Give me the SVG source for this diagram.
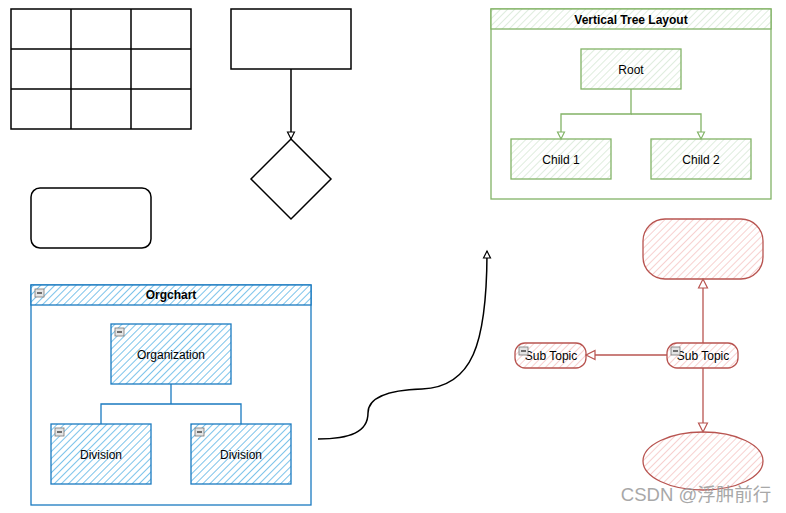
<svg xmlns="http://www.w3.org/2000/svg" width="786" height="513" viewBox="0 0 786 513">
<style>
.blk{fill:none;stroke:#000;stroke-width:1.5}
.t{font-family:"Liberation Sans",Arial,sans-serif;font-size:12px;fill:#000;text-anchor:middle}
.b{font-weight:bold}
.blue{fill:url(#hb);stroke:#1a7ac0;stroke-width:1.3}
.bluew{fill:#fff;stroke:#1a7ac0;stroke-width:1.3}
.green{fill:url(#hg);stroke:#82b366;stroke-width:1.3}
.greenw{fill:#fff;stroke:#82b366;stroke-width:1.3}
.red{fill:url(#hr);stroke:#b85450;stroke-width:1.3}
.ic{fill:#e4e4e4;stroke:#777;stroke-width:0.8}
.icl{stroke:#222;stroke-width:1.2}
</style>
<defs>
<pattern id="hb" width="5" height="5" patternUnits="userSpaceOnUse" patternTransform="rotate(45)">
<rect width="5" height="5" fill="#fff"/><line x1="0" y1="0" x2="0" y2="5" stroke="#7cc3ea" stroke-width="2"/>
</pattern>
<pattern id="hg" width="5" height="5" patternUnits="userSpaceOnUse" patternTransform="rotate(45)">
<rect width="5" height="5" fill="#fff"/><line x1="0" y1="0" x2="0" y2="5" stroke="#d5e8d4" stroke-width="1.5"/>
</pattern>
<pattern id="hr" width="5" height="5" patternUnits="userSpaceOnUse" patternTransform="rotate(45)">
<rect width="5" height="5" fill="#fff"/><line x1="0" y1="0" x2="0" y2="5" stroke="#f6c6c4" stroke-width="1.6"/>
</pattern>
<marker id="ak" markerWidth="10" markerHeight="10" refX="8" refY="5" orient="auto" markerUnits="userSpaceOnUse">
<path d="M1,1.5 L8,5 L1,8.5 Z" fill="#fff" stroke="#000" stroke-width="1.2"/>
</marker>
<marker id="ag" markerWidth="10" markerHeight="10" refX="8" refY="5" orient="auto" markerUnits="userSpaceOnUse">
<path d="M1,1.5 L8,5 L1,8.5 Z" fill="#fff" stroke="#82b366" stroke-width="1.2"/>
</marker>
<marker id="ar" markerWidth="12" markerHeight="12" refX="10" refY="6" orient="auto" markerUnits="userSpaceOnUse">
<path d="M1,1.5 L10,6 L1,10.5 Z" fill="#fff" stroke="#b85450" stroke-width="1.2"/>
</marker>
</defs>
<rect width="786" height="513" fill="#fff"/>

<g id="table">
<rect x="11" y="9" width="180" height="120" class="blk"/>
<path d="M71,9V129M131,9V129M11,49H191M11,89H191" class="blk"/>
</g>
<g id="rect1"><rect x="231" y="9" width="120" height="60" class="blk"/></g>
<g id="diamond"><path d="M291,139 L331,179 L291,219 L251,179 Z" class="blk"/></g>
<g id="rounded"><rect x="31" y="188" width="120" height="60" rx="9" class="blk" stroke-width="2.5"/></g>

<g id="orgchart">
<rect x="31" y="285" width="280" height="220" class="bluew"/>
<rect x="31" y="285" width="280" height="20" class="blue"/>
<text x="171" y="299" class="t b">Orgchart</text>
<rect x="35" y="289" width="9" height="8" class="ic"/><path d="M37,293H42" class="icl"/>
</g>
<g id="organization">
<rect x="111" y="324" width="120" height="60" class="blue"/>
<text x="171" y="359" class="t">Organization</text>
<rect x="115" y="328" width="9" height="8" class="ic"/><path d="M117,332H122" class="icl"/>
</g>
<g id="division1">
<rect x="51" y="424" width="100" height="60" class="blue"/>
<text x="101" y="459" class="t">Division</text>
<rect x="55" y="428" width="9" height="8" class="ic"/><path d="M57,432H62" class="icl"/>
</g>
<g id="division2">
<rect x="191" y="424" width="100" height="60" class="blue"/>
<text x="241" y="459" class="t">Division</text>
<rect x="195" y="428" width="9" height="8" class="ic"/><path d="M197,432H202" class="icl"/>
</g>

<g id="vtree">
<rect x="491" y="9" width="280" height="190" class="greenw"/>
<rect x="491" y="9" width="280" height="20" class="green"/>
<text x="631" y="24" class="t b">Vertical Tree Layout</text>
</g>
<g id="root"><rect x="581" y="49" width="100" height="40" class="green"/><text x="631" y="74" class="t">Root</text></g>
<g id="child1"><rect x="511" y="139" width="100" height="40" class="green"/><text x="561" y="164" class="t">Child 1</text></g>
<g id="child2"><rect x="651" y="139" width="100" height="40" class="green"/><text x="701" y="164" class="t">Child 2</text></g>

<g id="topRounded"><rect x="643" y="219" width="120" height="60" rx="22" class="red"/></g>
<g id="subTopicRight">
<rect x="667" y="343" width="71" height="25" rx="10" class="red"/>
<text x="703" y="360" class="t">Sub Topic</text>
<rect x="671" y="347" width="9" height="8" class="ic"/><path d="M673,351H678" class="icl"/>
</g>
<g id="subTopicLeft">
<rect x="515" y="343" width="71" height="25" rx="10" class="red"/>
<text x="551" y="360" class="t">Sub Topic</text>
<rect x="519" y="347" width="9" height="8" class="ic"/><path d="M521,351H526" class="icl"/>
</g>
<g id="ellipse"><ellipse cx="703" cy="461" rx="60" ry="29" class="red"/></g>

<g id="connectors">
<path d="M291,69 V139" fill="none" stroke="#000" stroke-width="1.5" marker-end="url(#ak)"/>
<path d="M171,384 V404 M101,424 V404 H241 V424" fill="none" stroke="#1a7ac0" stroke-width="1.3"/>
<path d="M318,439 C350,439 368,432 368,413 C368,396 392,390 422,389 C472,387 487,345 487,251" fill="none" stroke="#000" stroke-width="1.5" marker-end="url(#ak)"/>
<path d="M631,89 V114 H561 V139" fill="none" stroke="#82b366" stroke-width="1.3" marker-end="url(#ag)"/>
<path d="M631,114 H701 V139" fill="none" stroke="#82b366" stroke-width="1.3" marker-end="url(#ag)"/>
<path d="M667,355 H586" fill="none" stroke="#b85450" stroke-width="1.3" marker-end="url(#ar)"/>
<path d="M703,343 V279" fill="none" stroke="#b85450" stroke-width="1.3" marker-end="url(#ar)"/>
<path d="M703,368 V432" fill="none" stroke="#b85450" stroke-width="1.3" marker-end="url(#ar)"/>
</g>
<text x="696" y="501" font-family="'Liberation Sans','Noto Sans CJK SC',sans-serif" font-size="18.5" fill="#999" text-anchor="middle" opacity="0.85">CSDN @浮肿前行</text>
</svg>
